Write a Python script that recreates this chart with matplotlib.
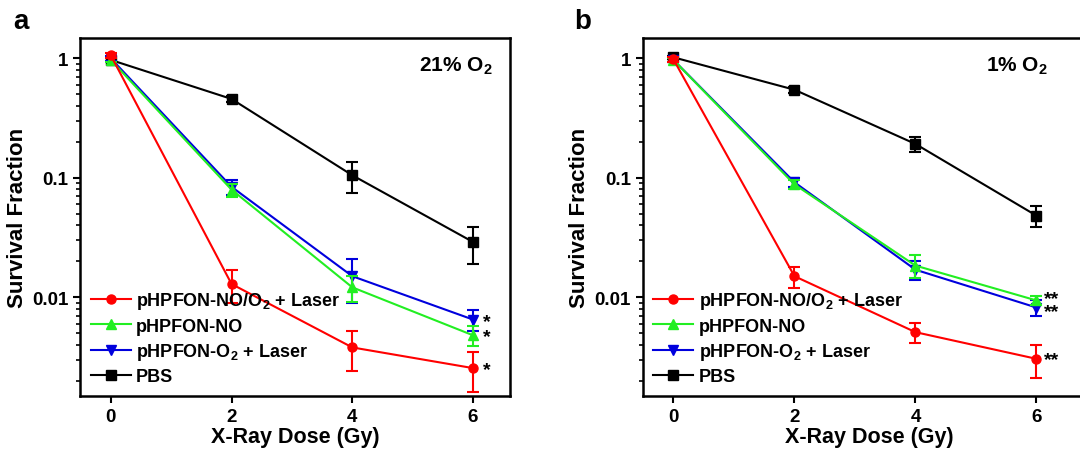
import numpy as np
import matplotlib
matplotlib.use('Agg')
import matplotlib.pyplot as plt
from matplotlib.ticker import LogLocator, NullFormatter, FixedLocator

plt.rcParams['font.family'] = ['Liberation Sans', 'DejaVu Sans']
plt.rcParams['font.weight'] = 'bold'
plt.rcParams['mathtext.fontset'] = 'custom'
plt.rcParams['mathtext.rm'] = 'Liberation Sans:bold'
plt.rcParams['mathtext.bf'] = 'Liberation Sans:bold'

dose = [0, 2, 4, 6]

labels = [r'pHPFON-NO/O$_\mathbf{2}$ + Laser', 'pHPFON-NO',
          r'pHPFON-O$_\mathbf{2}$ + Laser', 'PBS']
colors = ['#ff0000', '#22ee22', '#0000dd', '#000000']
markers = ['o', '^', 'v', 's']

# panel a, 21% O2
a_red = [1.06, 0.0129, 0.0038, 0.00255]
a_red_err = [0.05, 0.004, 0.0014, 0.00095]
a_green = [0.97, 0.0795, 0.0121, 0.0048]
a_green_err = [0.04, 0.01, 0.003, 0.0009]
a_blue = [1.0, 0.084, 0.015, 0.0065]
a_blue_err = [0.05, 0.012, 0.006, 0.0013]
a_pbs = [0.97, 0.457, 0.105, 0.029]
a_pbs_err = [0.04, 0.03, 0.031, 0.01]
a_stars = ['*', '*', '*']
a_star_y = [0.0063, 0.0047, 0.0025]

# panel b, 1% O2
b_red = [0.98, 0.015, 0.0051, 0.00305]
b_red_err = [0.04, 0.003, 0.001, 0.00095]
b_green = [0.97, 0.088, 0.0184, 0.0094]
b_green_err = [0.04, 0.008, 0.004, 0.0008]
b_blue = [0.97, 0.0917, 0.017, 0.0082]
b_blue_err = [0.04, 0.008, 0.003, 0.0013]
b_pbs = [1.02, 0.546, 0.192, 0.0482]
b_pbs_err = [0.03, 0.03, 0.027, 0.0097]
# the two stacked marks for green and blue share one text
b_stars = ['**\n**', '**']
b_star_y = [0.0086, 0.00300]


def draw(ax, series, errs, note, note_x, stars, star_y, star_x, xmax):
    for i in range(4):
        z = 4 - i if i < 3 else 1
        ax.errorbar(dose, series[i], yerr=errs[i], color=colors[i], fmt='none',
                    capsize=4, capthick=1.5, elinewidth=1.5, zorder=z)
        ax.plot(dose, series[i], color=colors[i], marker=markers[i],
                markersize=6.5, lw=1.5, label=labels[i], zorder=z)
    ax.set_yscale('log')
    ax.set_ylim(0.00149, 1.48)
    ax.set_xlim(-0.51, xmax)
    ax.xaxis.set_major_locator(FixedLocator(dose))
    ax.yaxis.set_major_locator(FixedLocator([0.01, 0.1, 1]))
    ax.yaxis.set_minor_locator(LogLocator(base=10, subs=np.arange(2, 10)))
    ax.yaxis.set_minor_formatter(NullFormatter())
    ax.set_yticklabels(['0.01', '0.1', '1'])
    ax.tick_params(axis='both', which='major', direction='out', length=5, width=1.5,
                   labelsize=13.5)
    ax.tick_params(axis='y', which='minor', direction='out', length=3, width=1.2)
    for s in ax.spines.values():
        s.set_linewidth(1.8)
    ax.set_xlabel('X-Ray Dose (Gy)', fontsize=15.5, fontweight='bold', labelpad=1)
    ax.set_ylabel('Survival Fraction', fontsize=16, fontweight='bold', labelpad=3)
    ax.text(note_x, 0.955, note, transform=ax.transAxes, ha='right', va='top',
            fontsize=15, fontweight='bold')
    for s, y in zip(stars, star_y):
        ax.text(star_x, y, s, ha='left', va='center', fontsize=14, fontweight='bold',
                linespacing=0.62)
    ax.legend(loc='lower left', frameon=False, fontsize=13, handlelength=2.2,
              handletextpad=0.3, labelspacing=0.35, borderaxespad=0.2,
              bbox_to_anchor=(0.0, 0.0))


fig = plt.figure(figsize=(10.8, 4.52), dpi=100)
ax1 = fig.add_axes([0.0741, 0.1217, 0.398, 0.792])
ax2 = fig.add_axes([0.595, 0.1217, 0.419, 0.792])

draw(ax1, [a_red, a_green, a_blue, a_pbs],
     [a_red_err, a_green_err, a_blue_err, a_pbs_err],
     r'21% O$_\mathbf{2}$', 0.96, a_stars, a_star_y, 6.17, 6.61)
draw(ax2, [b_red, b_green, b_blue, b_pbs],
     [b_red_err, b_green_err, b_blue_err, b_pbs_err],
     r'1% O$_\mathbf{2}$', 0.896, b_stars, b_star_y, 6.13, 6.97)

fig.text(0.012, 0.935, 'a', fontsize=20, fontweight='bold')
fig.text(0.532, 0.935, 'b', fontsize=20, fontweight='bold')

fig.savefig('out.png', dpi=100)
